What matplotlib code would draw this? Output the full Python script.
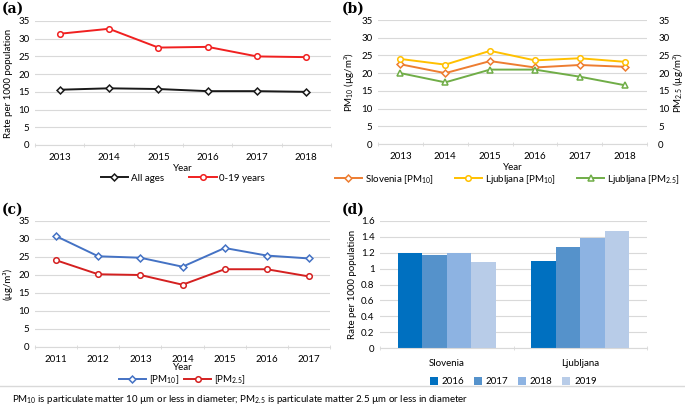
import matplotlib
matplotlib.use("Agg")
import matplotlib.pyplot as plt
import numpy as np

# ---------------- data ----------------
years_a = ["2013", "2014", "2015", "2016", "2017", "2018"]
all_ages = [15.6, 16.0, 15.8, 15.2, 15.2, 15.0]
young_0_19 = [31.4, 32.8, 27.5, 27.7, 25.0, 24.8]

years_b = ["2013", "2014", "2015", "2016", "2017", "2018"]
slovenia_pm10 = [22.5, 20.0, 23.4, 21.6, 22.3, 21.8]
ljubljana_pm10 = [24.0, 22.4, 26.3, 23.6, 24.2, 23.2]
ljubljana_pm25 = [20.0, 17.4, 21.0, 21.0, 19.0, 16.6]

years_c = ["2011", "2012", "2013", "2014", "2015", "2016", "2017"]
pm10_c = [30.8, 25.2, 24.8, 22.3, 27.5, 25.4, 24.6]
pm25_c = [24.1, 20.2, 20.0, 17.3, 21.6, 21.6, 19.6]

regions_d = ["Slovenia", "Ljubljana"]
years_d = ["2016", "2017", "2018", "2019"]
rates_d = {
    "2016": [1.20, 1.10],
    "2017": [1.17, 1.27],
    "2018": [1.20, 1.39],
    "2019": [1.08, 1.48],
}

# ---------------- style ----------------
plt.rcParams['font.family'] = ['Lato', 'DejaVu Sans']
plt.rcParams['mathtext.fontset'] = 'custom'
plt.rcParams['mathtext.rm'] = 'Lato'
plt.rcParams['mathtext.it'] = 'Lato:italic'
plt.rcParams['mathtext.bf'] = 'Lato:bold'
FS = 7
GRID = "#D9D9D9"
TXT = "#404040"

W, H = 685, 408
fig = plt.figure(figsize=(W / 100, H / 100), dpi=100)


def ax_px(l, t, r, b):
    return fig.add_axes([l / W, 1 - b / H, (r - l) / W, (b - t) / H])


def style_line_axes(ax, cats, ymax, ystep):
    n = len(cats)
    ax.set_xlim(-0.5, n - 0.5)
    ax.set_ylim(0, ymax)
    ax.set_yticks(np.arange(0, ymax + 0.001, ystep))
    ax.set_xticks(range(n))
    ax.set_xticklabels(cats)
    ax.set_xticks(np.arange(-0.5, n, 1), minor=True)
    ax.tick_params(axis='x', which='major', length=0, pad=6, labelsize=FS, colors=TXT, labelcolor="black")
    ax.tick_params(axis='x', which='minor', length=3, direction='inout', color=GRID)
    ax.tick_params(axis='y', length=0, labelsize=FS, pad=4)
    for s in ["top", "right", "left"]:
        ax.spines[s].set_visible(False)
    ax.spines["bottom"].set_color(GRID)
    ax.grid(axis='y', color=GRID, linewidth=0.8)
    ax.set_axisbelow(True)


def panel_label(x, y, s):
    fig.text(x / W, 1 - y / H, s, fontsize=10, fontweight='bold', family='DejaVu Serif',
             va='top', ha='left')


mk = dict(markersize=4, markerfacecolor='white', markeredgewidth=1.1, linewidth=1.4)
leg_kw = dict(frameon=False, fontsize=FS, handlelength=2.8, handletextpad=0.3, borderaxespad=0)

# ---------------- (a) ----------------
ax = ax_px(35, 21, 331, 145)
style_line_axes(ax, years_a, 35, 5)
x = np.arange(len(years_a))
ax.plot(x, all_ages, color="#1A1A1A", marker='D', label="All ages", **{**mk, 'markersize': 3.5})
ax.plot(x, young_0_19, color="#F02020", marker='o', label="0-19 years", **mk)
ax.set_ylabel("Rate per 1000 population", fontsize=FS, labelpad=4)
ax.set_xlabel("Year", fontsize=FS, labelpad=1)
ax.legend(loc='upper center', bbox_to_anchor=(0.5, -0.2), ncol=2, columnspacing=2.6, **leg_kw)
panel_label(2, 2, "(a)")

# ---------------- (b) ----------------
ax = ax_px(378, 20, 647, 144)
style_line_axes(ax, years_b, 35, 5)
x = np.arange(len(years_b))
ax.plot(x, slovenia_pm10, color="#ED7D31", marker='D', label="Slovenia [PM$_{10}$]", **{**mk, 'markersize': 3.5})
ax.plot(x, ljubljana_pm10, color="#FFC000", marker='o', label="Ljubljana [PM$_{10}$]", **mk)
ax.plot(x, ljubljana_pm25, color="#70AD47", marker='^', label="Ljubljana [PM$_{2.5}$]", **mk)
ax.set_ylabel("PM$_{10}$ (µg/m³)", fontsize=FS, labelpad=4)
ax.set_xlabel("Year", fontsize=FS, labelpad=1)
ax2 = ax.twinx()
ax2.set_ylim(0, 35)
ax2.set_yticks(np.arange(0, 35.001, 5))
ax2.tick_params(axis='y', length=0, labelsize=FS, pad=8)
for s in ["top", "right", "left", "bottom"]:
    ax2.spines[s].set_visible(False)
ax2.set_ylabel("PM$_{2.5}$ (µg/m³)", fontsize=FS, labelpad=1)
ax.legend(loc='upper center', bbox_to_anchor=(0.48, -0.2), ncol=3, columnspacing=2.2, **leg_kw)
panel_label(342, 2, "(b)")

# ---------------- (c) ----------------
ax = ax_px(35, 221, 330, 347)
style_line_axes(ax, years_c, 35, 5)
x = np.arange(len(years_c))
ax.plot(x, pm10_c, color="#4472C4", marker='D', label="[PM$_{10}$]", **{**mk, 'markersize': 3.5})
ax.plot(x, pm25_c, color="#D42020", marker='o', label="[PM$_{2.5}$]", **mk)
ax.set_ylabel("(µg/m³)", fontsize=FS, labelpad=4)
ax.set_xlabel("Year", fontsize=FS, labelpad=-1)
ax.legend(loc='upper center', bbox_to_anchor=(0.5, -0.18), ncol=2, columnspacing=0.5, **leg_kw)
panel_label(2, 203, "(c)")

# ---------------- (d) ----------------
ax = ax_px(380, 221, 647, 348)
bar_colors = ["#0070C0", "#5592CB", "#8DB3E2", "#B8CCE8"]
n = len(regions_d)
ax.set_xlim(-0.5, n - 0.5)
ax.set_ylim(0, 1.6)
ax.set_yticks(np.arange(0, 1.6001, 0.2))
ax.set_yticklabels(["0", "0.2", "0.4", "0.6", "0.8", "1", "1.2", "1.4", "1.6"])
bw = 0.183
for i, (yr, c) in enumerate(zip(years_d, bar_colors)):
    offs = (i - 1.5) * bw
    ax.bar(np.arange(n) + offs, rates_d[yr], width=bw, color=c, label=yr, zorder=2)
ax.set_xticks(range(n))
ax.set_xticklabels(regions_d)
ax.set_xticks(np.arange(-0.5, n, 1), minor=True)
ax.tick_params(axis='x', which='major', length=0, pad=8, labelsize=FS)
ax.tick_params(axis='x', which='minor', length=3, direction='inout', color=GRID)
ax.tick_params(axis='y', length=0, labelsize=FS, pad=4)
for s in ["top", "right", "left"]:
    ax.spines[s].set_visible(False)
ax.spines["bottom"].set_color(GRID)
ax.grid(axis='y', color=GRID, linewidth=0.8)
ax.set_axisbelow(True)
ax.set_ylabel("Rate per 1000 population", fontsize=FS, labelpad=3)
ax.legend(loc='upper center', bbox_to_anchor=(0.5, -0.2), ncol=4, frameon=False, fontsize=FS,
          handlelength=0.8, handleheight=0.8, handletextpad=0.4, columnspacing=1.0, borderaxespad=0)
panel_label(342, 203, "(d)")

# ---------------- footnote ----------------
fig.add_artist(plt.Line2D([0, 1], [1 - 386 / H, 1 - 386 / H], color="#D9D9D9", linewidth=1.0,
                          transform=fig.transFigure))
fig.text(12 / W, 1 - 400 / H,
         "PM$_{10}$ is particulate matter 10 µm or less in diameter; PM$_{2.5}$ is particulate matter 2.5 µm or less in diameter",
         fontsize=FS, va='center', ha='left')

fig.savefig("out.png", dpi=100)
